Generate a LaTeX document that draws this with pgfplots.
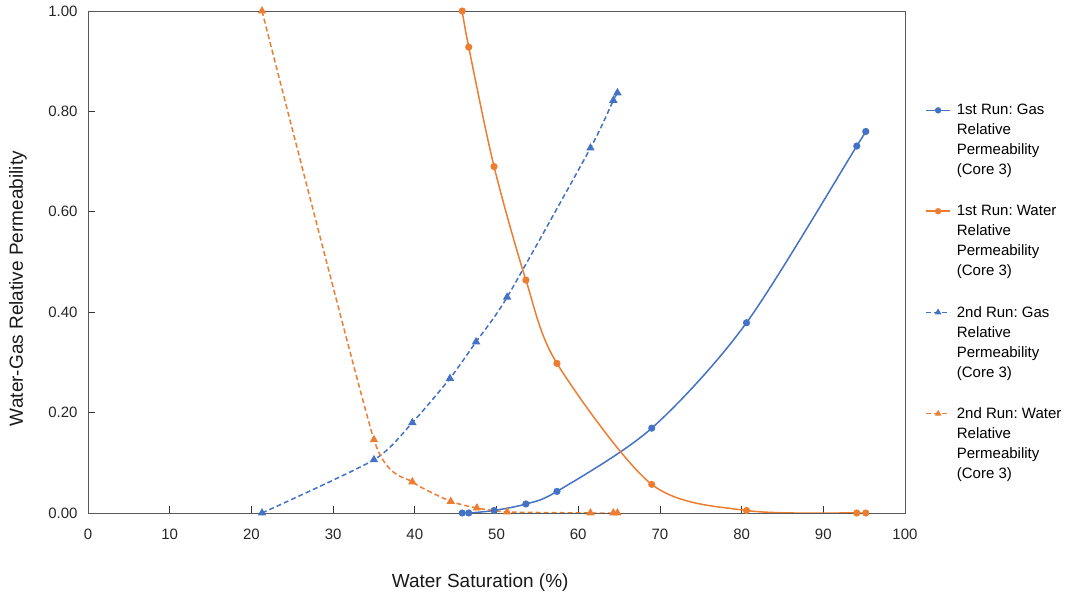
\documentclass[border=0pt]{standalone}
\usepackage{fontspec}
\setmainfont{Liberation Sans}
\usepackage{pgfplots}
\pgfplotsset{compat=1.18}

\definecolor{xlblue}{HTML}{4472C4}
\definecolor{xlorange}{HTML}{ED7D31}
\definecolor{framegray}{HTML}{595959}

\begin{document}
\frenchspacing
\begin{tikzpicture}
\begin{axis}[
  name=ax,
  scale only axis,
  width=817pt, height=502pt,
  xmin=0, xmax=100, ymin=0, ymax=1,
  xtick={0,10,...,100},
  ytick={0,0.2,...,1.0},
  tick align=inside,
  xtick pos=bottom, ytick pos=left,
  major tick length=7pt,
  axis line style={framegray, line width=0.8pt},
  tick style={black!80, line width=0.8pt},
  /pgf/number format/assume math mode=true,
  yticklabel style={xshift=-7pt, /pgf/number format/fixed, /pgf/number format/fixed zerofill, /pgf/number format/precision=2},
  xticklabel style={yshift=-12pt, /pgf/number format/fixed},
  ticklabel style={font=\fontsize{15}{17}\selectfont, text=black!85},
  xlabel={Water Saturation (\%)},
  ylabel={Water-Gas Relative Permeability},
  label style={font=\fontsize{19}{22}\selectfont, text=black!90},
  xlabel style={at={(axis description cs:0.48,-0.138)}, anchor=center},
  ylabel style={at={(axis description cs:-0.0857,0.447)}, anchor=center},
  legend style={
    at={(axis description cs:1.021,0.44)}, anchor=west,
    draw=none, fill=none,
    font=\fontsize{15}{20}\selectfont,
    row sep=25pt,
    cells={anchor=west, align=left},
  },
  legend cell align=left,
  legend image code/.code={
    \draw[mark repeat=2, mark phase=2, #1, line width=1.5pt, mark size=2.4pt]
      plot coordinates {(0pt,30pt) (12pt,30pt) (24pt,30pt)};
    \path (28pt,30pt);
  },
  every axis plot/.append style={line width=1.5pt},
  dashstyle/.style={dash pattern=on 5pt off 3pt},
  clip=true,
]
% 1st run gas
\addplot[xlblue, smooth, mark=*, mark size=2.8pt]
  coordinates {
    (45.8,0)(46.6,0)(49.7,0.005)(53.6,0.018)(57.4,0.043)
    (69.0,0.169)(80.6,0.379)(94.1,0.731)(95.2,0.760)
  };
\addlegendentry{1st Run: Gas\\Relative\\Permeability\\(Core 3)}
% 1st run water
\addplot[xlorange, smooth, mark=*, mark size=2.8pt]
  coordinates {
    (45.8,1.000)(46.6,0.928)(49.7,0.690)(53.6,0.464)(57.4,0.298)
    (69.0,0.057)(80.6,0.005)(94.1,0)(95.2,0)
  };
\addlegendentry{1st Run: Water\\Relative\\Permeability\\(Core 3)}
% 2nd run gas
\addplot[xlblue, smooth, tension=0.4, dashstyle, mark=triangle*, mark size=3.4pt, mark options={solid}]
  coordinates {
    (21.3,0)(35.0,0.106)(39.7,0.180)(44.3,0.268)(47.5,0.341)
    (51.3,0.430)(61.5,0.727)(64.3,0.822)(64.8,0.837)
  };
\addlegendentry{2nd Run: Gas\\Relative\\Permeability\\(Core 3)}
% 2nd run water
\addplot[xlorange, smooth, tension=0.3, dashstyle, mark=triangle*, mark size=3.4pt, mark options={solid}]
  coordinates {
    (21.3,1.000)(35.0,0.146)(39.7,0.062)(44.4,0.023)(47.6,0.010)
    (51.3,0.002)(61.5,0)(64.3,0)(64.8,0)
  };
\addlegendentry{2nd Run: Water\\Relative\\Permeability\\(Core 3)}
\end{axis}
\pgfresetboundingbox
\useasboundingbox ([xshift=-88pt,yshift=-83pt]ax.south west) rectangle ([xshift=168pt,yshift=11pt]ax.north east);
\end{tikzpicture}
\end{document}
